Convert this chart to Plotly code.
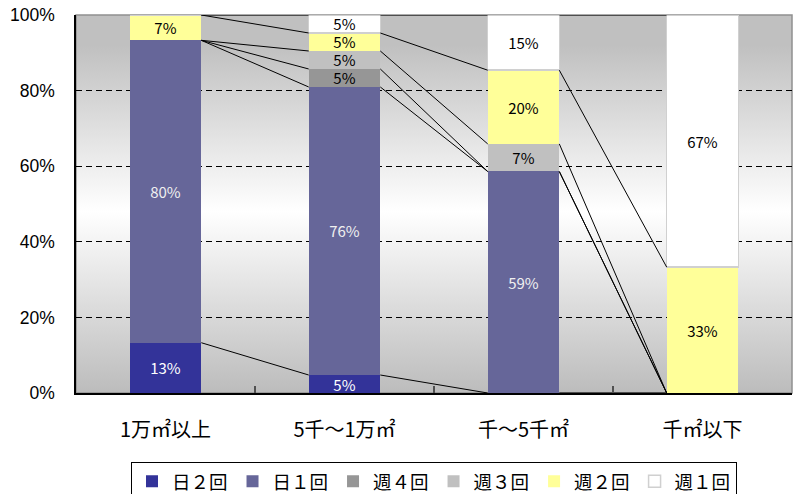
import base64
import numpy as np
import plotly.graph_objects as go

# 回収頻度（敷地面積別）の構成比 %
categories = ["1万㎡以上", "5千～1万㎡", "千～5千㎡", "千㎡以下"]
series_names = ["日２回", "日１回", "週４回", "週３回", "週２回", "週１回"]
series_colors = ["#333399", "#666699", "#969696", "#C0C0C0", "#FFFF99", "#FFFFFF"]
label_colors = ["#ffffff", "#f0f0f0", "#000000", "#000000", "#000000", "#000000"]

day2 = [13.3, 4.76, 0, 0]
day1 = [80.0, 76.2, 58.6, 0]
week4 = [0, 4.76, 0, 0]
week3 = [0, 4.76, 7.3, 0]
week2 = [6.7, 4.76, 19.5, 33.3]
week1 = [0, 4.76, 14.6, 66.7]

series_values = [day2, day1, week4, week3, week2, week1]
ytick_vals = [0, 20, 40, 60, 80, 100]
ytick_text = ["0%", "20%", "40%", "60%", "80%", "100%"]

bar_w = 0.4
x = np.arange(len(categories))
font_jp = "Noto Sans CJK JP"

fig = go.Figure()

# series lines (Excel style) connecting segment tops between neighbouring bars
cum = np.cumsum(np.array(series_values), axis=0)
for k in range(len(series_names)):
    for i in range(len(categories) - 1):
        fig.add_trace(go.Scatter(
            x=[x[i] + bar_w / 2, x[i + 1] - bar_w / 2],
            y=[cum[k][i], cum[k][i + 1]],
            mode='lines', line=dict(color='black', width=1),
            showlegend=False, hoverinfo='skip'
        ))

for name, vals, col, tcol in zip(series_names, series_values, series_colors, label_colors):
    txt = [f"{int(v + 0.5)}%" if v > 0 else "" for v in vals]
    fig.add_trace(go.Bar(
        x=x, y=vals, name=name, width=bar_w,
        marker=dict(color=col,
                    line=dict(color='#d0d0d0' if col == "#FFFFFF" else col,
                              width=1.5 if col == "#FFFFFF" else 0)),
        text=txt, textposition='inside', insidetextanchor='middle',
        textangle=0, constraintext='none',
        textfont=dict(family=font_jp, size=15, color=tcol)
    ))

# plot-area gradient (grey - white - grey)
svg = ('<svg xmlns="http://www.w3.org/2000/svg" width="10" height="100" preserveAspectRatio="none">'
       '<defs><linearGradient id="g" x1="0" y1="0" x2="0" y2="1">'
       '<stop offset="0" stop-color="#c0c0c0"/><stop offset="0.08" stop-color="#c0c0c0"/>'
       '<stop offset="0.52" stop-color="#ffffff"/><stop offset="1" stop-color="#bcbcbc"/>'
       '</linearGradient></defs><rect width="10" height="100" fill="url(#g)"/></svg>')
src = "data:image/svg+xml;base64," + base64.b64encode(svg.encode()).decode()

fig.update_layout(
    width=795, height=494,
    barmode='stack', bargap=0.6,
    paper_bgcolor='white', plot_bgcolor='rgba(0,0,0,0)',
    margin=dict(l=76, r=3, t=15, b=101, autoexpand=False),
    font=dict(family="Liberation Sans, Arial", color='black'),
    images=[dict(source=src, xref='paper', yref='paper', x=0, y=1, sizex=1, sizey=1,
                 sizing='stretch', xanchor='left', yanchor='top', layer='below')],
    shapes=[dict(type='rect', xref='paper', yref='paper', x0=0, y0=0, x1=1, y1=1,
                 line=dict(color='#909090', width=1.5), layer='below')],
    legend=dict(orientation='h', x=0.5, xanchor='center', y=-0.182, yanchor='top',
                bordercolor='black', borderwidth=1, bgcolor='white',
                font=dict(family=font_jp, size=18.5), traceorder='normal'),
    xaxis=dict(range=[-0.5, 3.5], tickvals=list(x), ticktext=categories, automargin=False,
               tickfont=dict(family=font_jp, size=20), ticks='', ticklabelstandoff=18,
               showgrid=False, zeroline=False, showline=True, linecolor='black', linewidth=1.5,
               minor=dict(tickvals=[0.5, 1.5, 2.5], ticks='inside', ticklen=7,
                          tickcolor='#505050', tickwidth=1.5, showgrid=False)),
    yaxis=dict(range=[0, 100], tickvals=ytick_vals, ticktext=ytick_text, automargin=False,
               tickfont=dict(size=17.5), ticks='', ticklabelstandoff=16,
               showgrid=True, gridcolor='black', gridwidth=1, griddash='6px,4px',
               zeroline=False, showline=True, linecolor='black', linewidth=1.5),
)

fig.write_html("out.html", config={'displayModeBar': False},
               post_script="document.body.style.margin='0';")
